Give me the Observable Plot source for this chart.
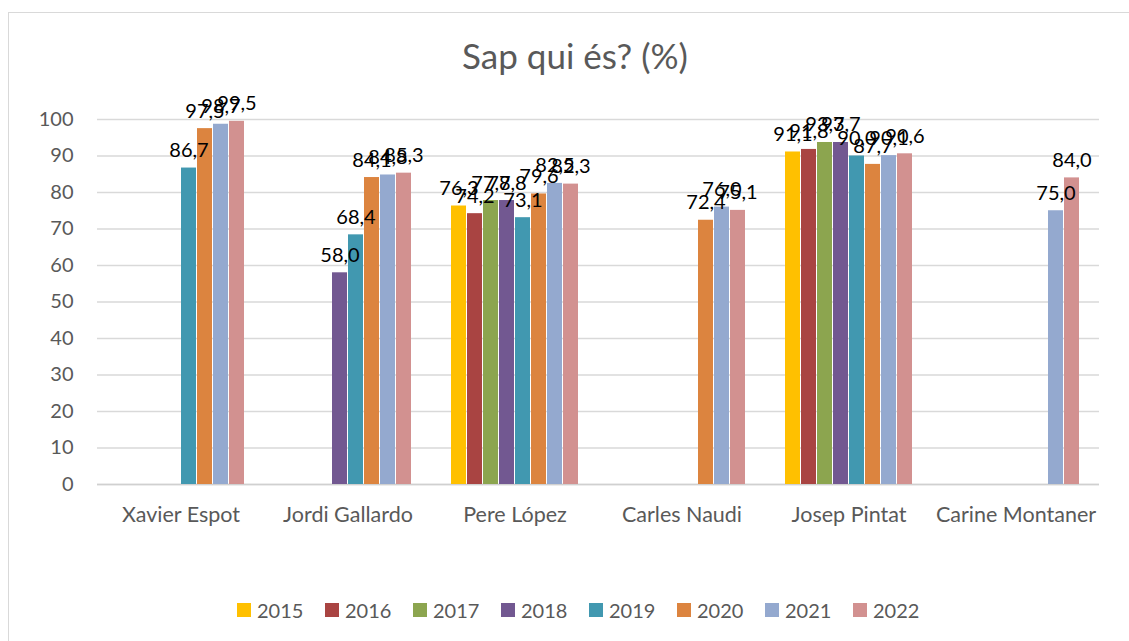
<!DOCTYPE html>
<html><head><meta charset="utf-8">
<script src="https://cdn.jsdelivr.net/npm/d3@7"></script>
<script src="https://cdn.jsdelivr.net/npm/@observablehq/plot@0.6"></script>
<style>
body{margin:0;background:#fff;font-family:Lato,sans-serif;}
#frame{position:absolute;left:8px;top:12px;width:1200px;height:700px;border:1px solid #d9d9d9;}
#title{position:absolute;left:0;top:38px;width:1150px;text-align:center;font-size:35px;line-height:35px;color:#595959;}
#chart{position:absolute;left:0;top:0;}
#legend{position:absolute;top:600px;left:237px;display:flex;align-items:center;height:20px;}
.item{display:flex;align-items:center;width:88px;font-size:20px;color:#595959;line-height:20px;}
.sw{width:14px;height:14px;margin-right:6px;}
</style></head>
<body>
<div id="frame"></div>
<div id="chart"></div>
<div id="title">Sap qui és? (%)</div>
<div id="legend"></div>
<script>
const persons = ["Xavier Espot","Jordi Gallardo","Pere López","Carles Naudi","Josep Pintat","Carine Montaner"];
const years = ["2015","2016","2017","2018","2019","2020","2021","2022"];
const colors = ["#FFC000","#A94442","#8CA54F","#725891","#4198B0","#DC843F","#94A9CF","#D29190"];
// values per year, one per person (null = no bar)
const v2015 = [null, null, 76.3, null, 91.1, null];
const v2016 = [null, null, 74.2, null, 91.8, null];
const v2017 = [null, null, 77.8, null, 93.7, null];
const v2018 = [null, 58.0, 77.8, null, 93.7, null];
const v2019 = [86.7, 68.4, 73.1, null, 90.0, null];
const v2020 = [97.5, 84.1, 79.6, 72.4, 87.7, null];
const v2021 = [98.7, 84.8, 82.5, 76.0, 90.1, 75.0];
const v2022 = [99.5, 85.3, 82.3, 75.1, 90.6, 84.0];
const yTicks = [0,10,20,30,40,50,60,70,80,90,100];

const series = [v2015,v2016,v2017,v2018,v2019,v2020,v2021,v2022];
const data = [];
persons.forEach((p,i)=>years.forEach((y,j)=>{
  const v = series[j][i];
  if (v != null) data.push({person:p, year:y, value:v});
}));
const fmt = v => d3.format(".1f")(v).replace(".", ",");

const chart = Plot.plot({
  width:1129, height:641,
  marginLeft:97, marginRight:30, marginTop:119, marginBottom:157,
  style:{fontFamily:"Lato, sans-serif", fontSize:"20px", background:"transparent", overflow:"visible"},
  fx:{domain:persons, padding:0, label:null},
  x:{domain:years, paddingInner:0.08, paddingOuter:0.97, axis:null},
  y:{domain:[0,100], label:null},
  color:{domain:years, range:colors},
  marks:[
    Plot.gridY(yTicks, {stroke:"#d9d9d9", strokeOpacity:1, strokeWidth:1.3}),
    Plot.ruleY([0], {stroke:"#d0d0d0", strokeWidth:1.6}),
    Plot.barY(data, {fx:"person", x:"year", y:"value", fill:"year"}),
    Plot.text(data, {fx:"person", x:"year", y:"value", text:d=>fmt(d.value), lineAnchor:"bottom", dy:-11, fontSize:20, fill:"black"}),
    Plot.axisY(yTicks, {tickSize:0, tickPadding:24, fontSize:20, color:"#595959", label:null}),
    Plot.axisFx({anchor:"bottom", tickSize:0, tickPadding:22, fontSize:21.5, color:"#595959", label:null})
  ]
});
document.getElementById("chart").appendChild(chart);

const leg = document.getElementById("legend");
years.forEach((y,i)=>{
  const it = document.createElement("div"); it.className="item";
  const sw = document.createElement("div"); sw.className="sw"; sw.style.background=colors[i];
  const t = document.createElement("span"); t.textContent=y;
  it.appendChild(sw); it.appendChild(t); leg.appendChild(it);
});
</script>
</body></html>
